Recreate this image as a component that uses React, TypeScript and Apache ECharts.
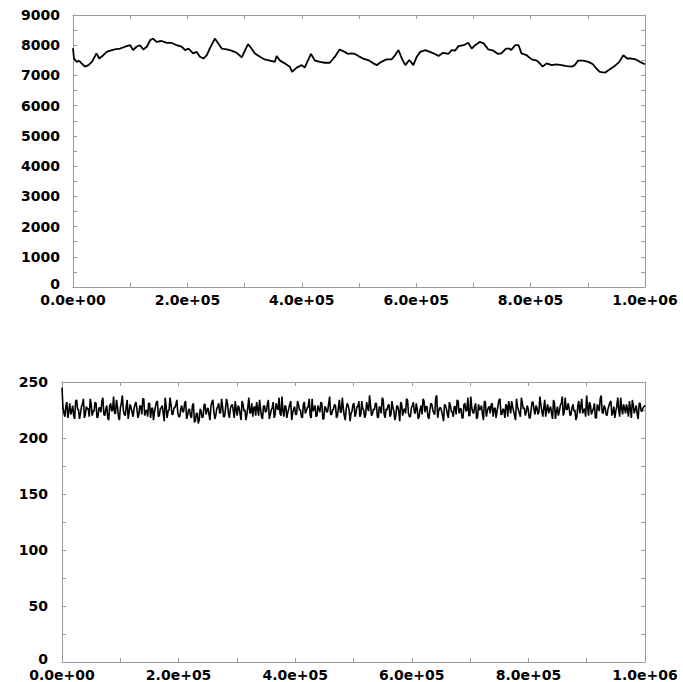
import React, { useEffect, useRef } from "react";
import * as echarts from "echarts";

// Top panel: random-walk-like trace (x in steps, y values)
const topX = [0, 1700, 6400, 11000, 15000, 21000, 27000, 33000, 38000, 41000, 46000, 53000, 59000, 65000, 73000, 82000, 91000, 100000, 105000, 111000, 117000, 123000, 129000, 135000, 140000, 146000, 155000, 164000, 172000, 181000, 190000, 196000, 202000, 210000, 216000, 222000, 228000, 234000, 239000, 248000, 254000, 260000, 269000, 277000, 286000, 295000, 301000, 306000, 312000, 318000, 327000, 335000, 344000, 353000, 356000, 362000, 370000, 379000, 383000, 391000, 400000, 405000, 411000, 416000, 423000, 432000, 440000, 449000, 458000, 466000, 475000, 481000, 487000, 493000, 499000, 507000, 516000, 525000, 531000, 539000, 548000, 557000, 563000, 569000, 575000, 581000, 588000, 595000, 601000, 607000, 616000, 624000, 633000, 639000, 647000, 656000, 662000, 668000, 674000, 683000, 691000, 697000, 703000, 711000, 718000, 726000, 735000, 743000, 749000, 757000, 763000, 766000, 773000, 779000, 784000, 793000, 802000, 811000, 816000, 821000, 828000, 837000, 845000, 854000, 863000, 872000, 877000, 883000, 892000, 901000, 909000, 915000, 921000, 930000, 938000, 947000, 955000, 962000, 969000, 976000, 984000, 991000, 1000000];
const topY = [7900, 7560, 7450, 7480, 7400, 7290, 7340, 7450, 7620, 7730, 7560, 7670, 7780, 7820, 7860, 7890, 7950, 8000, 7840, 7950, 8000, 7860, 7950, 8170, 8220, 8110, 8140, 8080, 8080, 8000, 7950, 7840, 7890, 7730, 7780, 7620, 7560, 7670, 7890, 8220, 8060, 7890, 7860, 7820, 7750, 7600, 7840, 8040, 7890, 7730, 7620, 7530, 7490, 7450, 7640, 7490, 7400, 7290, 7120, 7260, 7340, 7260, 7510, 7710, 7490, 7450, 7420, 7420, 7620, 7860, 7780, 7710, 7730, 7710, 7640, 7560, 7510, 7400, 7340, 7450, 7530, 7530, 7670, 7840, 7560, 7340, 7510, 7340, 7620, 7780, 7840, 7780, 7710, 7640, 7750, 7710, 7840, 7820, 7970, 8000, 8080, 7890, 8000, 8110, 8060, 7860, 7820, 7710, 7730, 7890, 7890, 7840, 8000, 8000, 7730, 7670, 7530, 7490, 7400, 7290, 7400, 7340, 7370, 7340, 7310, 7290, 7340, 7490, 7490, 7450, 7370, 7230, 7120, 7090, 7200, 7310, 7450, 7670, 7560, 7560, 7530, 7450, 7370];

// Bottom panel: noisy trace, two interleaved sample sets, evenly spaced over [0, 1e6]
const bottomA = [
  245, 222, 229, 218, 231, 224, 220, 233, 226, 217, 228, 235, 221, 226, 219, 230, 224, 232, 218, 227,
  223, 236, 220, 229, 216, 231, 225, 222, 234, 219, 227, 238, 221, 228, 217, 230, 223, 226, 232, 218,
  229, 221, 235, 224, 219, 231, 226, 216, 228, 233, 220, 227, 222, 236, 218, 225, 230, 221, 227, 234,
  219, 226, 223, 231, 217, 225, 220, 229, 214, 222, 213, 226, 218, 230, 221, 227, 216, 232, 224, 220,
  228, 222, 235, 219, 226, 231, 218, 229, 224, 233, 220, 227, 216, 230, 225, 221, 236, 223, 219, 228,
  232, 220, 226, 217, 229, 224, 234, 221, 227, 218, 231, 225, 222, 237, 219, 228, 223, 230, 216, 226,
  221, 233, 225, 219, 230, 222, 227, 235, 218, 224, 229, 220, 226, 232, 217, 228, 223, 231, 221, 225,
  230, 218, 227, 223, 236, 220, 226, 229, 215, 224, 231, 222, 228, 219, 233, 225, 221, 227, 238, 220,
  226, 231, 219, 228, 222, 234, 218, 225, 230, 221, 227, 216, 229, 224, 232, 220, 226, 235, 222, 219,
  229, 223, 231, 217, 226, 221, 233, 228, 219, 225, 230, 222, 236, 218, 227, 224, 215, 229, 221, 232,
  224, 219, 228, 234, 222, 226, 218, 231, 225, 220, 237, 223, 228, 217, 230, 226, 221, 233, 219, 227,
  222, 231, 226, 218, 229, 235, 221, 225, 230, 219, 227, 233, 224, 216, 228, 222, 236, 226, 220, 229,
  218, 225, 232, 221, 227, 223, 230, 219, 234, 226, 222, 228, 217, 231, 224, 220, 229, 237, 223, 226,
  231, 220, 227, 224, 216, 229, 222, 235, 225, 219, 228, 232, 221, 226, 218, 230, 224, 238, 222, 227,
  220, 229, 233, 223, 218, 228, 225, 236, 221, 227, 230, 219, 226, 234, 222, 229, 217, 231, 224, 228,
];
const bottomB = [
  227, 219, 232, 224, 221, 229, 217, 234, 225, 222, 230, 218, 228, 226, 235, 220, 224, 231, 219, 227,
  233, 221, 226, 218, 229, 224, 237, 222, 228, 216, 231, 225, 220, 234, 223, 227, 219, 230, 226, 221,
  228, 235, 220, 225, 231, 218, 227, 223, 232, 219, 226, 229, 215, 228, 224, 236, 221, 227, 230, 222,
  219, 229, 224, 233, 220, 226, 218, 231, 215, 222, 216, 224, 219, 230, 225, 221, 228, 234, 217, 226,
  231, 223, 228, 219, 235, 222, 226, 230, 218, 225, 229, 221, 233, 224, 216, 228, 222, 231, 227, 220,
  226, 234, 219, 228, 223, 230, 217, 225, 232, 221, 227, 236, 220, 224, 229, 218, 226, 233, 222, 228,
  221, 230, 225, 218, 232, 224, 228, 220, 235, 226, 219, 229, 223, 231, 217, 227, 224, 237, 221, 226,
  229, 220, 234, 223, 227, 216, 231, 225, 222, 230, 219, 228, 233, 221, 226, 218, 232, 224, 229, 222,
  225, 231, 218, 227, 236, 221, 226, 229, 219, 233, 224, 220, 228, 215, 230, 225, 222, 234, 219, 227,
  232, 222, 226, 219, 229, 235, 223, 228, 217, 231, 225, 221, 238, 224, 227, 220, 230, 226, 218, 229,
  223, 228, 221, 233, 226, 218, 230, 224, 236, 220, 227, 222, 231, 219, 225, 229, 216, 232, 224, 228,
  230, 219, 227, 224, 234, 221, 226, 218, 229, 233, 222, 228, 220, 235, 225, 219, 231, 227, 223, 226,
  218, 232, 225, 229, 221, 237, 224, 227, 219, 230, 226, 222, 234, 217, 228, 224, 231, 220, 236, 225,
  227, 221, 230, 225, 219, 233, 228, 222, 226, 238, 220, 229, 224, 231, 218, 227, 235, 223, 229, 221,
  226, 232, 220, 228, 224, 236, 219, 227, 230, 222, 225, 233, 218, 229, 226, 221, 231, 224, 227, 229,
];
const X_MAX = 1000000;

const xTickLabels: Record<number, string> = {
  0: "0.0e+00",
  200000: "2.0e+05",
  400000: "4.0e+05",
  600000: "6.0e+05",
  800000: "8.0e+05",
  1000000: "1.0e+06",
};
const topYLabels = [0, 1000, 2000, 3000, 4000, 5000, 6000, 7000, 8000, 9000];
const bottomYLabels = [0, 50, 100, 150, 200, 250];

export default function App() {
  const ref = useRef<HTMLDivElement>(null);
  useEffect(() => {
    if (!ref.current) return;
    const chart = echarts.init(ref.current, null, { renderer: "svg" });
    const axisColor = "#9a9a9a";
    const labelStyle = {
      color: "#000",
      fontSize: 14,
      lineHeight: 12,
      fontWeight: "bold" as const,
      fontFamily: "DejaVu Sans",
    };
    const lineStyle = { lineStyle: { color: axisColor, width: 1 } };
    const tickStyle = { show: true, inside: true, length: 4, lineStyle: { color: axisColor } };

    const xAxis = (grid: number, pos: "bottom" | "top", labels: boolean, margin: number) => ({
      type: "value" as const,
      gridIndex: grid,
      position: pos,
      min: 0,
      max: X_MAX,
      interval: 100000,
      axisLine: { show: true, onZero: false, ...lineStyle },
      axisTick: tickStyle,
      splitLine: { show: false },
      axisLabel: labels
        ? {
            ...labelStyle,
            margin,
            formatter: (v: number) => xTickLabels[v] ?? "",
          }
        : { show: false },
    });
    const yAxis = (
      grid: number,
      pos: "left" | "right",
      labels: boolean,
      max: number,
      interval: number,
      shown: number[],
      margin: number
    ) => ({
      type: "value" as const,
      gridIndex: grid,
      position: pos,
      min: 0,
      max,
      interval,
      axisLine: { show: true, onZero: false, ...lineStyle },
      axisTick: tickStyle,
      splitLine: { show: false },
      axisLabel: labels
        ? {
            ...labelStyle,
            margin,
            formatter: (v: number) =>
              v === 0 ? "{z|0}" : shown.includes(v) ? String(v) : "",
            rich: { z: { ...labelStyle, padding: [0, 0, 7, 0] } },
          }
        : { show: false },
    });

    const topData = topX.map((x, i) => [x, topY[i]]);
    const bottomY: number[] = [];
    bottomA.forEach((a, i) => {
      bottomY.push(a);
      bottomY.push(bottomB[i]);
    });
    const step = X_MAX / (bottomY.length - 1);
    const bottomData = bottomY.map((y, i) => [i * step, y]);

    chart.setOption({
      animation: false,
      backgroundColor: "#fff",
      grid: [
        { left: 73, right: 38, top: 15, height: 272 },
        { left: 62, right: 38, top: 382, height: 281 },
      ],
      xAxis: [
        xAxis(0, "bottom", true, 7),
        xAxis(0, "top", false, 0),
        xAxis(1, "bottom", true, 7),
        xAxis(1, "top", false, 0),
      ],
      yAxis: [
        yAxis(0, "left", true, 9000, 500, topYLabels, 13),
        yAxis(0, "right", false, 9000, 500, topYLabels, 0),
        yAxis(1, "left", true, 250, 25, bottomYLabels, 14),
        yAxis(1, "right", false, 250, 25, bottomYLabels, 0),
      ],
      series: [
        {
          type: "line",
          xAxisIndex: 0,
          yAxisIndex: 0,
          data: topData,
          showSymbol: false,
          symbol: "none",
          lineStyle: { color: "#000", width: 1.8 },
        },
        {
          type: "line",
          xAxisIndex: 2,
          yAxisIndex: 2,
          data: bottomData,
          showSymbol: false,
          symbol: "none",
          lineStyle: { color: "#000", width: 1.6 },
        },
      ],
    });
    return () => chart.dispose();
  }, []);
  return (
    <div
      ref={ref}
      style={{ position: "fixed", left: 0, top: 0, width: 683, height: 682, background: "#fff" }}
    />
  );
}
